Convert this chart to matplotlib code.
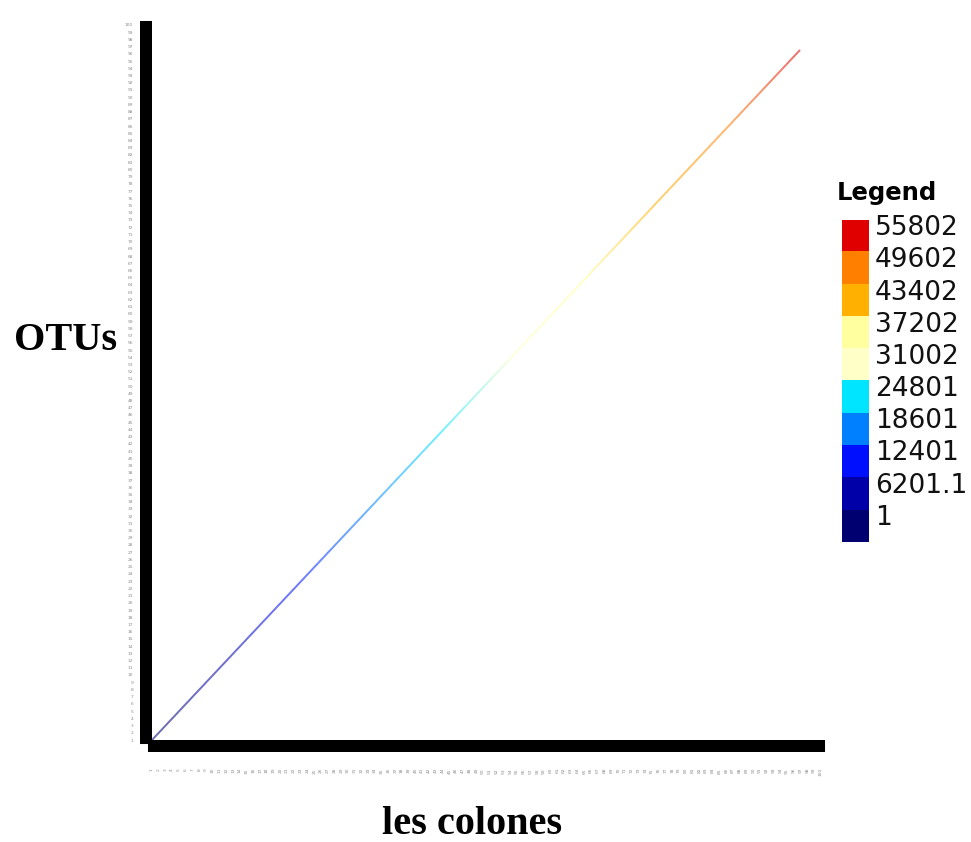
import numpy as np
import matplotlib
matplotlib.use('Agg')
import matplotlib.pyplot as plt
from matplotlib.collections import LineCollection
from matplotlib.colors import LinearSegmentedColormap, Normalize

# ---- data ----
legend_values = [1, 6201.1, 12401, 18601, 24801, 31002, 37202, 43402, 49602, 55802]
legend_labels = ['1', '6201.1', '12401', '18601', '24801', '31002', '37202', '43402', '49602', '55802']
legend_colors = ['#000070', '#0000a8', '#0010ff', '#0080ff', '#00e5ff',
                 '#ffffc8', '#ffffa0', '#ffb000', '#ff8000', '#e00000']
value_min = 1
value_max = 62002          # diagonal: OTU i vs column i has value i
n_tick_x = 100
n_tick_y = 100
x_label = 'les colones'
y_label = 'OTUs'

# ---- layout ----
W, H = 971, 842
fig = plt.figure(figsize=(W / 100, H / 100), dpi=100)
fig.patch.set_facecolor('white')

def px(x0, y0, x1, y1):
    return [x0 / W, 1 - y1 / H, (x1 - x0) / W, (y1 - y0) / H]

ax = fig.add_axes(px(152, 25, 821, 740))
xmax = value_max * (821 - 152) / (800 - 152)
ymax = value_max * (740 - 25) / (740 - 50)

cmap = LinearSegmentedColormap.from_list('leg', legend_colors)
norm = Normalize(value_min, value_max)

diag = np.linspace(value_min, value_max, 600)
segs = np.stack([np.column_stack([diag[:-1], diag[:-1]]),
                 np.column_stack([diag[1:], diag[1:]])], axis=1)
lc = LineCollection(segs, cmap=cmap, norm=norm, linewidths=1.4, alpha=0.6)
lc.set_array((diag[:-1] + diag[1:]) / 2)
ax.add_collection(lc)

ax.set_xlim(0, xmax)
ax.set_ylim(0, ymax)
for s in ax.spines.values():
    s.set_visible(False)

xt = np.linspace(0, xmax, n_tick_x)
yt = np.linspace(0, ymax, n_tick_y)
ax.set_xticks(xt)
ax.set_yticks(yt)
ax.set_xticklabels([str(i + 1) for i in range(n_tick_x)], rotation=90)
ax.set_yticklabels([str(i + 1) for i in range(n_tick_y)])
ax.tick_params(axis='both', direction='out', length=8.6, width=5.8, color='black',
               labelsize=3.2, labelcolor='#8a8a8a')
ax.tick_params(axis='x', pad=11.5)
ax.tick_params(axis='y', pad=5)

# axis titles
fig.text(66 / W, 1 - 341 / H, y_label, family='Liberation Serif', weight='bold',
         fontsize=29, ha='center', va='center')
fig.text(472 / W, 1 - 824 / H, x_label, family='Liberation Serif', weight='bold',
         fontsize=29, ha='center', va='center')

# legend
fig.text(837 / W, 1 - 193 / H, 'Legend', family='DejaVu Sans', weight='bold',
         fontsize=17.5, ha='left', va='center')
lax = fig.add_axes(px(842, 220, 868, 542))
n = len(legend_values)
lax.imshow(np.arange(n)[::-1].reshape(-1, 1),
           cmap=LinearSegmentedColormap.from_list('l', legend_colors, N=n),
           aspect='auto', interpolation='nearest', extent=(0, 1, 0, n))
lax.set_xlim(0, 1)
lax.set_ylim(0, n)
lax.axis('off')
box_h = (542 - 220) / n
for i, lab in enumerate(legend_labels):
    yc = 542 - box_h * (i + 0.5) - 8
    fig.text(875 / W, 1 - yc / H, lab, family='DejaVu Sans', fontsize=19,
             ha='left', va='center', color='#111111')

fig.savefig('out.png', dpi=100, facecolor='white')
